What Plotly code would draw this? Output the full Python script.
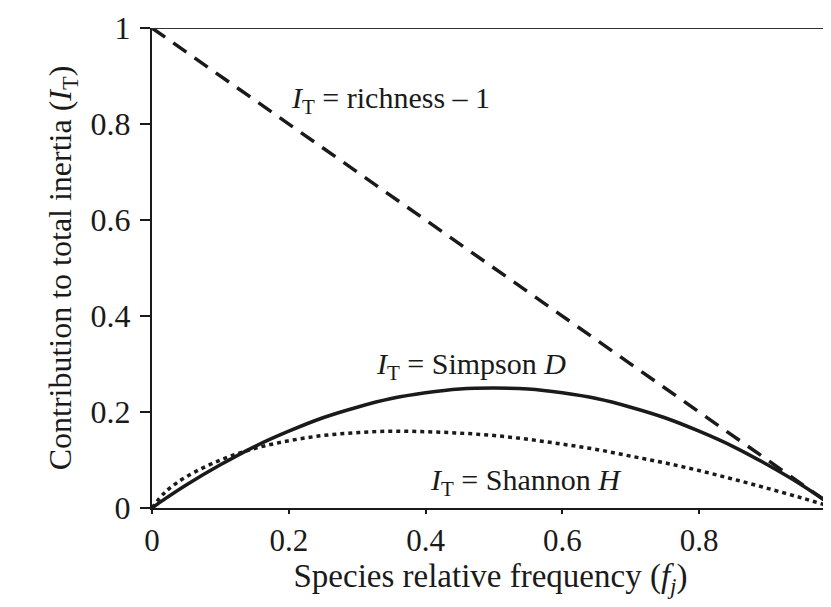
import plotly.graph_objects as go

# Species relative frequency
freq = [0, 0.02, 0.05, 0.1, 0.15, 0.2, 0.25, 0.3, 0.35, 0.4, 0.45, 0.5,
        0.55, 0.6, 0.65, 0.7, 0.75, 0.8, 0.85, 0.9, 0.95, 0.99]
simpson = [0, 0.02, 0.048, 0.09, 0.128, 0.16, 0.188, 0.21, 0.228, 0.24, 0.248, 0.25,
           0.248, 0.24, 0.228, 0.21, 0.188, 0.16, 0.128, 0.09, 0.048, 0.01]
shannon = [0, 0.034, 0.065, 0.10, 0.124, 0.14, 0.151, 0.157, 0.16, 0.159, 0.156, 0.151,
           0.143, 0.133, 0.122, 0.108, 0.094, 0.078, 0.06, 0.041, 0.021, 0.004]
rich_x = [0, 0.99]
rich_y = [1, 0.01]

x_ticks = [0, 0.2, 0.4, 0.6, 0.8]
x_tick_text = ["0", "0.2", "0.4", "0.6", "0.8"]
y_ticks = [0, 0.2, 0.4, 0.6, 0.8, 1]
y_tick_text = ["0", "0.2", "0.4", "0.6", "0.8", "1"]

FONT = "Liberation Serif"
INK = "#1a1a1a"

fig = go.Figure()
fig.add_trace(go.Scatter(x=rich_x, y=rich_y, mode="lines",
                         line=dict(color=INK, width=3.5, dash="16px,10px")))
fig.add_trace(go.Scatter(x=freq, y=simpson, mode="lines", line_shape="spline",
                         line=dict(color=INK, width=3.5)))
fig.add_trace(go.Scatter(x=freq, y=shannon, mode="lines", line_shape="spline",
                         line=dict(color=INK, width=3.5, dash="4px,4px")))

ann_font = dict(family=FONT, size=30, color=INK)
fig.add_annotation(x=0.20, y=0.85, xref="x", yref="y", xanchor="left", yanchor="middle",
                   text="<i>I</i><sub>T</sub> = richness – 1", showarrow=False, font=ann_font)
fig.add_annotation(x=0.324, y=0.295, xref="x", yref="y", xanchor="left", yanchor="middle",
                   text="<i>I</i><sub>T</sub> = Simpson <i>D</i>", showarrow=False, font=ann_font)
fig.add_annotation(x=0.404, y=0.055, xref="x", yref="y", xanchor="left", yanchor="middle",
                   text="<i>I</i><sub>T</sub> = Shannon <i>H</i>", showarrow=False, font=ann_font)

# top frame line at y = 1
fig.add_shape(type="line", xref="paper", yref="y", x0=0, x1=1, y0=1, y1=1,
              line=dict(color="#333", width=2))

fig.update_layout(
    width=823, height=599,
    margin=dict(l=144, r=2, t=18, b=99),
    paper_bgcolor="white", plot_bgcolor="white",
    showlegend=False,
    font=dict(family=FONT, color=INK),
    xaxis=dict(range=[0, 0.99], tickvals=x_ticks, ticktext=x_tick_text,
               showgrid=False, zeroline=False, showline=True, linecolor=INK, linewidth=2,
               ticks="outside", ticklen=4, tickwidth=1.5, tickcolor=INK,
               tickfont=dict(family=FONT, size=31, color=INK),
               title=dict(text="Species relative frequency (<i>f</i><sub><i>j</i></sub>)",
                          font=dict(family=FONT, size=33, color=INK), standoff=5)),
    yaxis=dict(range=[0, 1], tickvals=y_ticks, ticktext=y_tick_text,
               showgrid=False, zeroline=False, showline=True, linecolor=INK, linewidth=2,
               ticks="outside", ticklen=10, tickwidth=1.5, tickcolor=INK,
               ticklabelstandoff=3,
               tickfont=dict(family=FONT, size=32, color=INK),
               title=dict(text="Contribution to total inertia (<i>I</i><sub>T</sub>)",
                          font=dict(family=FONT, size=32, color=INK), standoff=9)),
)

fig.write_html("out.html")
